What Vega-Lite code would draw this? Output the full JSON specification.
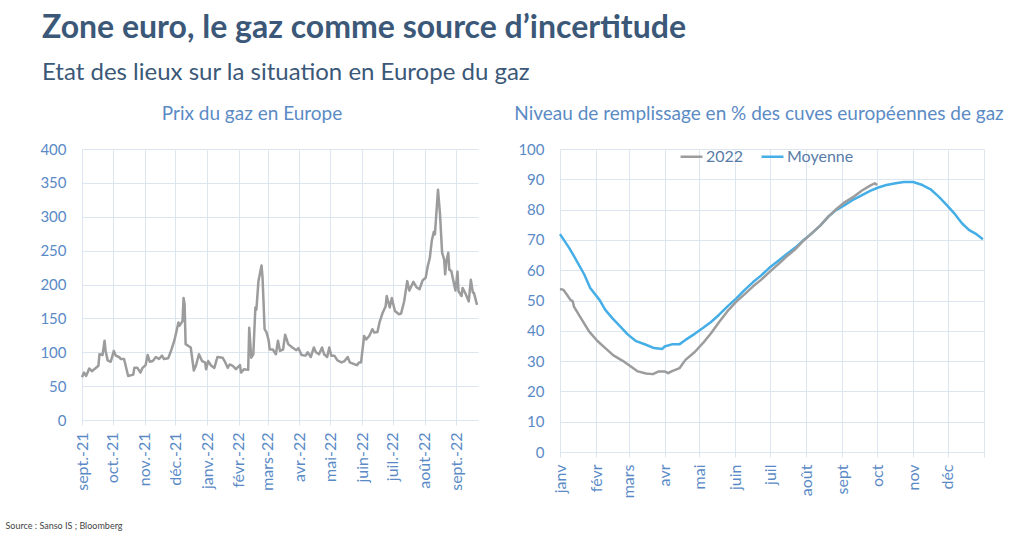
{
  "$schema": "https://vega.github.io/schema/vega-lite/v6.json",
  "background": "white",
  "padding": {"left": 5, "top": 12, "right": 5, "bottom": 5},
  "title": {
    "text": "Zone euro, le gaz comme source d’incertitude",
    "subtitle": "Etat des lieux sur la situation en Europe du gaz",
    "anchor": "start",
    "frame": "bounds",
    "dx": 37,
    "fontSize": 32,
    "fontWeight": "bold",
    "color": "#3b5878",
    "subtitleFontSize": 24,
    "subtitleColor": "#3b5878",
    "subtitleFontWeight": "normal",
    "subtitlePadding": 16,
    "offset": 19
  },
  "datasets": {
    "prix": [
      {"d": "2021-09-01", "p": 63}, {"d": "2021-09-03", "p": 70}, {"d": "2021-09-05", "p": 65}, {"d": "2021-09-07", "p": 72},
      {"d": "2021-09-08", "p": 76}, {"d": "2021-09-11", "p": 72}, {"d": "2021-09-13", "p": 75}, {"d": "2021-09-17", "p": 80},
      {"d": "2021-09-18", "p": 97}, {"d": "2021-09-21", "p": 96}, {"d": "2021-09-23", "p": 117}, {"d": "2021-09-24", "p": 102},
      {"d": "2021-09-26", "p": 88}, {"d": "2021-09-29", "p": 86}, {"d": "2021-10-02", "p": 102}, {"d": "2021-10-04", "p": 95},
      {"d": "2021-10-07", "p": 93}, {"d": "2021-10-09", "p": 90}, {"d": "2021-10-12", "p": 90}, {"d": "2021-10-16", "p": 65},
      {"d": "2021-10-21", "p": 67}, {"d": "2021-10-22", "p": 77}, {"d": "2021-10-25", "p": 77}, {"d": "2021-10-28", "p": 70},
      {"d": "2021-10-30", "p": 77}, {"d": "2021-11-02", "p": 81}, {"d": "2021-11-04", "p": 96}, {"d": "2021-11-06", "p": 86},
      {"d": "2021-11-09", "p": 87}, {"d": "2021-11-12", "p": 93}, {"d": "2021-11-15", "p": 90}, {"d": "2021-11-18", "p": 95},
      {"d": "2021-11-20", "p": 90}, {"d": "2021-11-24", "p": 91}, {"d": "2021-11-27", "p": 103}, {"d": "2021-11-30", "p": 117},
      {"d": "2021-12-04", "p": 144}, {"d": "2021-12-05", "p": 139}, {"d": "2021-12-08", "p": 146}, {"d": "2021-12-09", "p": 180},
      {"d": "2021-12-10", "p": 171}, {"d": "2021-12-11", "p": 112}, {"d": "2021-12-16", "p": 107}, {"d": "2021-12-19", "p": 73},
      {"d": "2021-12-21", "p": 80}, {"d": "2021-12-24", "p": 97}, {"d": "2021-12-27", "p": 87}, {"d": "2021-12-30", "p": 85},
      {"d": "2021-12-31", "p": 75}, {"d": "2022-01-02", "p": 87}, {"d": "2022-01-05", "p": 80}, {"d": "2022-01-08", "p": 77},
      {"d": "2022-01-11", "p": 93}, {"d": "2022-01-16", "p": 92}, {"d": "2022-01-18", "p": 87}, {"d": "2022-01-21", "p": 77},
      {"d": "2022-01-23", "p": 82}, {"d": "2022-01-26", "p": 80}, {"d": "2022-01-29", "p": 75}, {"d": "2022-02-02", "p": 81},
      {"d": "2022-02-03", "p": 70}, {"d": "2022-02-06", "p": 75}, {"d": "2022-02-10", "p": 74}, {"d": "2022-02-11", "p": 136},
      {"d": "2022-02-13", "p": 92}, {"d": "2022-02-15", "p": 97}, {"d": "2022-02-17", "p": 166}, {"d": "2022-02-18", "p": 163},
      {"d": "2022-02-20", "p": 205}, {"d": "2022-02-23", "p": 228}, {"d": "2022-02-24", "p": 210}, {"d": "2022-02-26", "p": 134},
      {"d": "2022-02-28", "p": 129}, {"d": "2022-03-02", "p": 117}, {"d": "2022-03-03", "p": 104}, {"d": "2022-03-06", "p": 104},
      {"d": "2022-03-09", "p": 97}, {"d": "2022-03-11", "p": 117}, {"d": "2022-03-13", "p": 102}, {"d": "2022-03-16", "p": 104},
      {"d": "2022-03-18", "p": 126}, {"d": "2022-03-21", "p": 112}, {"d": "2022-03-25", "p": 107}, {"d": "2022-03-29", "p": 103},
      {"d": "2022-03-31", "p": 106}, {"d": "2022-04-03", "p": 96}, {"d": "2022-04-07", "p": 95}, {"d": "2022-04-09", "p": 100},
      {"d": "2022-04-12", "p": 93}, {"d": "2022-04-15", "p": 107}, {"d": "2022-04-17", "p": 100}, {"d": "2022-04-20", "p": 97},
      {"d": "2022-04-23", "p": 107}, {"d": "2022-04-25", "p": 97}, {"d": "2022-04-28", "p": 93}, {"d": "2022-04-30", "p": 107},
      {"d": "2022-05-02", "p": 95}, {"d": "2022-05-05", "p": 95}, {"d": "2022-05-08", "p": 88}, {"d": "2022-05-12", "p": 85},
      {"d": "2022-05-15", "p": 87}, {"d": "2022-05-18", "p": 93}, {"d": "2022-05-20", "p": 85}, {"d": "2022-05-25", "p": 82},
      {"d": "2022-05-27", "p": 81}, {"d": "2022-05-29", "p": 85}, {"d": "2022-05-31", "p": 85}, {"d": "2022-06-03", "p": 124},
      {"d": "2022-06-05", "p": 119}, {"d": "2022-06-08", "p": 124}, {"d": "2022-06-11", "p": 134}, {"d": "2022-06-13", "p": 129},
      {"d": "2022-06-16", "p": 130}, {"d": "2022-06-18", "p": 144}, {"d": "2022-06-21", "p": 158}, {"d": "2022-06-24", "p": 168},
      {"d": "2022-06-25", "p": 183}, {"d": "2022-06-28", "p": 166}, {"d": "2022-06-30", "p": 180}, {"d": "2022-07-03", "p": 161},
      {"d": "2022-07-07", "p": 156}, {"d": "2022-07-09", "p": 157}, {"d": "2022-07-12", "p": 175}, {"d": "2022-07-15", "p": 205},
      {"d": "2022-07-17", "p": 191}, {"d": "2022-07-21", "p": 204}, {"d": "2022-07-24", "p": 196}, {"d": "2022-07-27", "p": 193},
      {"d": "2022-07-30", "p": 206}, {"d": "2022-08-02", "p": 210}, {"d": "2022-08-04", "p": 227}, {"d": "2022-08-06", "p": 239},
      {"d": "2022-08-08", "p": 265}, {"d": "2022-08-10", "p": 278}, {"d": "2022-08-11", "p": 274}, {"d": "2022-08-14", "p": 340},
      {"d": "2022-08-16", "p": 303}, {"d": "2022-08-18", "p": 247}, {"d": "2022-08-20", "p": 237}, {"d": "2022-08-21", "p": 215},
      {"d": "2022-08-22", "p": 232}, {"d": "2022-08-24", "p": 247}, {"d": "2022-08-25", "p": 222}, {"d": "2022-08-27", "p": 220},
      {"d": "2022-08-29", "p": 205}, {"d": "2022-08-31", "p": 191}, {"d": "2022-09-02", "p": 219}, {"d": "2022-09-03", "p": 190},
      {"d": "2022-09-06", "p": 183}, {"d": "2022-09-07", "p": 195}, {"d": "2022-09-10", "p": 186}, {"d": "2022-09-13", "p": 175},
      {"d": "2022-09-15", "p": 207}, {"d": "2022-09-17", "p": 188}, {"d": "2022-09-18", "p": 188}, {"d": "2022-09-21", "p": 170}
    ],
    "stock": [
      {"d": "2022-01-01", "s": "Moyenne", "v": 71.9}, {"d": "2022-01-09", "s": "Moyenne", "v": 67.3}, {"d": "2022-01-14", "s": "Moyenne", "v": 64.0},
      {"d": "2022-01-22", "s": "Moyenne", "v": 58.5}, {"d": "2022-01-27", "s": "Moyenne", "v": 54.1}, {"d": "2022-02-04", "s": "Moyenne", "v": 50.2},
      {"d": "2022-02-09", "s": "Moyenne", "v": 46.9}, {"d": "2022-02-15", "s": "Moyenne", "v": 44.2}, {"d": "2022-02-22", "s": "Moyenne", "v": 41.4},
      {"d": "2022-02-28", "s": "Moyenne", "v": 38.9}, {"d": "2022-03-07", "s": "Moyenne", "v": 36.7}, {"d": "2022-03-16", "s": "Moyenne", "v": 35.4},
      {"d": "2022-03-23", "s": "Moyenne", "v": 34.3}, {"d": "2022-03-30", "s": "Moyenne", "v": 34.0}, {"d": "2022-04-01", "s": "Moyenne", "v": 34.8},
      {"d": "2022-04-08", "s": "Moyenne", "v": 35.6}, {"d": "2022-04-14", "s": "Moyenne", "v": 35.6}, {"d": "2022-04-19", "s": "Moyenne", "v": 37.0},
      {"d": "2022-04-27", "s": "Moyenne", "v": 39.0}, {"d": "2022-05-04", "s": "Moyenne", "v": 40.9}, {"d": "2022-05-11", "s": "Moyenne", "v": 42.9},
      {"d": "2022-05-18", "s": "Moyenne", "v": 45.3}, {"d": "2022-05-25", "s": "Moyenne", "v": 48.0}, {"d": "2022-06-02", "s": "Moyenne", "v": 50.8},
      {"d": "2022-06-09", "s": "Moyenne", "v": 53.5}, {"d": "2022-06-16", "s": "Moyenne", "v": 56.0}, {"d": "2022-06-23", "s": "Moyenne", "v": 58.2},
      {"d": "2022-06-30", "s": "Moyenne", "v": 60.7}, {"d": "2022-07-08", "s": "Moyenne", "v": 63.1}, {"d": "2022-07-15", "s": "Moyenne", "v": 65.3},
      {"d": "2022-07-22", "s": "Moyenne", "v": 67.3}, {"d": "2022-07-29", "s": "Moyenne", "v": 69.7}, {"d": "2022-08-05", "s": "Moyenne", "v": 71.9},
      {"d": "2022-08-13", "s": "Moyenne", "v": 74.7}, {"d": "2022-08-20", "s": "Moyenne", "v": 77.7}, {"d": "2022-08-27", "s": "Moyenne", "v": 79.9},
      {"d": "2022-09-03", "s": "Moyenne", "v": 81.5}, {"d": "2022-09-11", "s": "Moyenne", "v": 83.4}, {"d": "2022-09-18", "s": "Moyenne", "v": 84.8},
      {"d": "2022-09-25", "s": "Moyenne", "v": 86.2}, {"d": "2022-10-02", "s": "Moyenne", "v": 87.3}, {"d": "2022-10-09", "s": "Moyenne", "v": 88.1},
      {"d": "2022-10-17", "s": "Moyenne", "v": 88.7}, {"d": "2022-10-24", "s": "Moyenne", "v": 89.1}, {"d": "2022-11-01", "s": "Moyenne", "v": 89.1},
      {"d": "2022-11-09", "s": "Moyenne", "v": 88.1}, {"d": "2022-11-16", "s": "Moyenne", "v": 86.7}, {"d": "2022-11-23", "s": "Moyenne", "v": 84.3},
      {"d": "2022-11-30", "s": "Moyenne", "v": 81.5}, {"d": "2022-12-07", "s": "Moyenne", "v": 78.5}, {"d": "2022-12-13", "s": "Moyenne", "v": 75.5},
      {"d": "2022-12-19", "s": "Moyenne", "v": 73.3}, {"d": "2022-12-25", "s": "Moyenne", "v": 72.0}, {"d": "2022-12-31", "s": "Moyenne", "v": 70.2},
      {"d": "2022-01-01", "s": "2022", "v": 53.8}, {"d": "2022-01-04", "s": "2022", "v": 53.5}, {"d": "2022-01-07", "s": "2022", "v": 51.9},
      {"d": "2022-01-10", "s": "2022", "v": 50.2}, {"d": "2022-01-12", "s": "2022", "v": 49.7}, {"d": "2022-01-13", "s": "2022", "v": 48.0},
      {"d": "2022-01-19", "s": "2022", "v": 44.2}, {"d": "2022-01-26", "s": "2022", "v": 39.8}, {"d": "2022-02-02", "s": "2022", "v": 36.7},
      {"d": "2022-02-09", "s": "2022", "v": 34.3}, {"d": "2022-02-16", "s": "2022", "v": 31.9}, {"d": "2022-02-24", "s": "2022", "v": 30.1},
      {"d": "2022-03-03", "s": "2022", "v": 28.2}, {"d": "2022-03-09", "s": "2022", "v": 26.6}, {"d": "2022-03-16", "s": "2022", "v": 25.9},
      {"d": "2022-03-22", "s": "2022", "v": 25.7}, {"d": "2022-03-27", "s": "2022", "v": 26.6}, {"d": "2022-04-01", "s": "2022", "v": 26.6},
      {"d": "2022-04-04", "s": "2022", "v": 26.0}, {"d": "2022-04-08", "s": "2022", "v": 26.8}, {"d": "2022-04-14", "s": "2022", "v": 27.7},
      {"d": "2022-04-19", "s": "2022", "v": 30.4}, {"d": "2022-04-27", "s": "2022", "v": 33.0}, {"d": "2022-05-04", "s": "2022", "v": 35.9},
      {"d": "2022-05-11", "s": "2022", "v": 39.2}, {"d": "2022-05-18", "s": "2022", "v": 42.9}, {"d": "2022-05-25", "s": "2022", "v": 46.4},
      {"d": "2022-06-02", "s": "2022", "v": 49.7}, {"d": "2022-06-09", "s": "2022", "v": 52.1}, {"d": "2022-06-16", "s": "2022", "v": 54.6},
      {"d": "2022-06-23", "s": "2022", "v": 56.8}, {"d": "2022-06-30", "s": "2022", "v": 59.3}, {"d": "2022-07-08", "s": "2022", "v": 62.0},
      {"d": "2022-07-15", "s": "2022", "v": 64.5}, {"d": "2022-07-22", "s": "2022", "v": 66.7}, {"d": "2022-07-29", "s": "2022", "v": 69.5},
      {"d": "2022-08-05", "s": "2022", "v": 71.9}, {"d": "2022-08-13", "s": "2022", "v": 74.7}, {"d": "2022-08-20", "s": "2022", "v": 77.7},
      {"d": "2022-08-27", "s": "2022", "v": 80.2}, {"d": "2022-09-03", "s": "2022", "v": 82.4}, {"d": "2022-09-11", "s": "2022", "v": 84.3},
      {"d": "2022-09-18", "s": "2022", "v": 86.3}, {"d": "2022-09-25", "s": "2022", "v": 87.9}, {"d": "2022-09-29", "s": "2022", "v": 88.7},
      {"d": "2022-10-01", "s": "2022", "v": 88.1}
    ]
  },
  "hconcat": [
    {
      "width": 396,
      "height": 271,
      "title": {"text": "Prix du gaz en Europe", "fontSize": 19, "fontWeight": "normal", "color": "#5b8bc5", "anchor": "middle", "frame": "group", "dx": -28, "offset": 18},
      "data": {"name": "prix"},
      "mark": {"type": "line", "color": "#9c9c9c", "strokeWidth": 2.5, "strokeJoin": "round"},
      "encoding": {
        "x": {
          "field": "d", "type": "temporal",
          "scale": {"type": "utc", "domain": [{"year": 2021, "month": 9, "date": 1, "utc": true}, {"year": 2022, "month": 9, "date": 22, "utc": true}]},
          "axis": {
            "tickCount": {"interval": "month", "step": 1},
            "labelExpr": "['janv.','févr.','mars','avr.','mai','juin','juil.','août','sept.','oct.','nov.','déc.'][utcmonth(datum.value)] + '-' + utcFormat(datum.value, '%y')",
            "labelAngle": -90,
            "title": "Source : Sanso IS ; Bloomberg",
            "titleX": -77,
            "titleY": 108,
            "titleAlign": "left",
            "titleBaseline": "alphabetic",
            "titleAngle": 0,
            "titleFontSize": 9,
            "titleFontWeight": "normal",
            "titleColor": "#444444"
          }
        },
        "y": {
          "field": "p", "type": "quantitative",
          "scale": {"domain": [0, 400]},
          "axis": {"values": [0, 50, 100, 150, 200, 250, 300, 350, 400], "title": null}
        }
      }
    },
    {
      "width": 424,
      "height": 303,
      "title": {"text": "Niveau de remplissage en % des cuves européennes de gaz", "fontSize": 19, "fontWeight": "normal", "color": "#5b8bc5", "anchor": "middle", "frame": "group", "dx": -13, "offset": 18},
      "data": {"name": "stock"},
      "mark": {"type": "line", "strokeWidth": 2.5, "strokeJoin": "round"},
      "encoding": {
        "x": {
          "field": "d", "type": "temporal",
          "scale": {"type": "utc", "domain": [{"year": 2022, "month": 1, "date": 1, "utc": true}, {"year": 2023, "month": 1, "date": 1, "utc": true}]},
          "axis": {
            "tickCount": {"interval": "month", "step": 1},
            "labelExpr": "utcyear(datum.value) > 2022 ? '' : ['janv','févr','mars','avr','mai','juin','juil','août','sept','oct','nov','déc'][utcmonth(datum.value)]",
            "labelAngle": -90,
            "title": null
          }
        },
        "y": {
          "field": "v", "type": "quantitative",
          "scale": {"domain": [0, 100]},
          "axis": {"values": [0, 10, 20, 30, 40, 50, 60, 70, 80, 90, 100], "title": null}
        },
        "color": {
          "field": "s", "type": "nominal",
          "scale": {"domain": ["2022", "Moyenne"], "range": ["#9c9c9c", "#45aee6"]},
          "legend": {
            "title": null,
            "orient": "none",
            "direction": "horizontal",
            "legendX": 597,
            "legendY": -5,
            "symbolType": "stroke",
            "symbolSize": 480,
            "symbolStrokeWidth": 2.5,
            "labelFontSize": 16,
            "labelColor": "#587ca8",
            "labelOffset": 2,
            "columnPadding": 12
          }
        }
      }
    }
  ],
  "spacing": 82,
  "bounds": "flush",
  "config": {
    "font": "Lato",
    "view": {"stroke": null},
    "axis": {
      "gridColor": "#dce6f1",
      "gridWidth": 1,
      "domain": false,
      "labelColor": "#5a8ac6",
      "labelFontSize": 15,
      "labelFont": "Lato"
    },
    "axisX": {"ticks": true, "tickColor": "#dce6f1", "tickSize": 5, "labelPadding": 7, "domain": true, "domainColor": "#dce6f1", "labelFontSize": 16},
    "axisY": {"ticks": false, "labelPadding": 16}
  }
}
